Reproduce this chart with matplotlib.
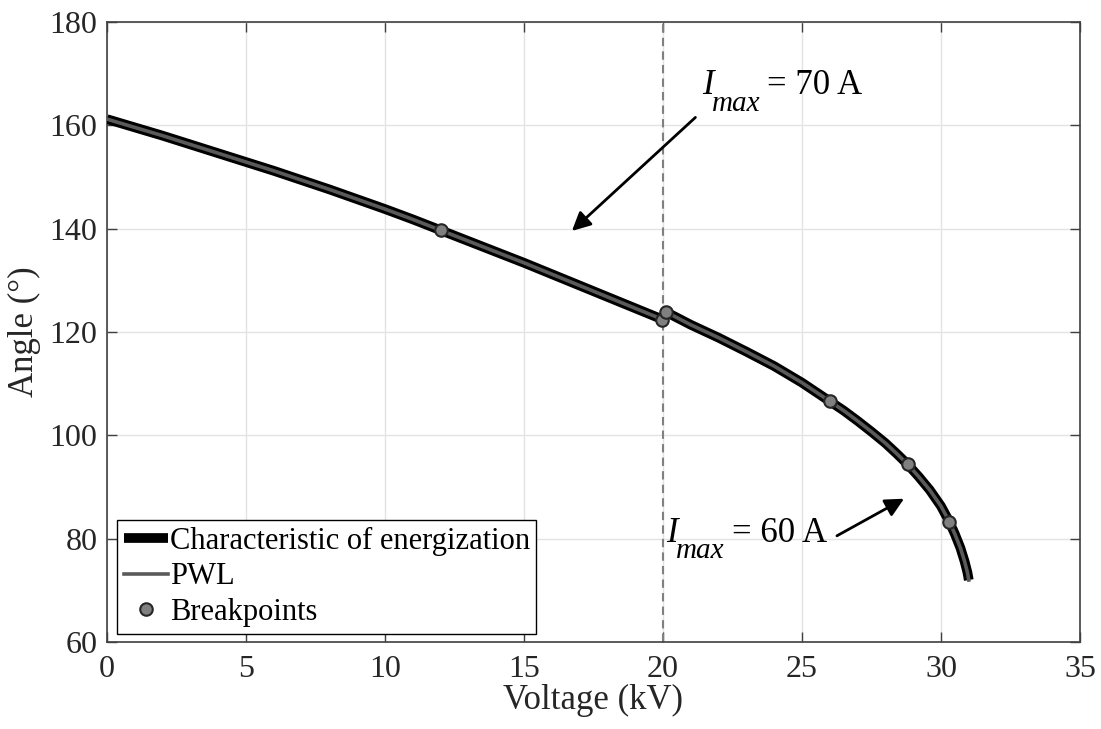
import numpy as np
import matplotlib
matplotlib.use('Agg')
import matplotlib.pyplot as plt

plt.rcParams['font.family'] = ['Liberation Serif', 'DejaVu Serif']

# Kennlinie Teil 1 (bis 20 kV) und Teil 2 (ab 20 kV)
v1 = [0, 1, 2, 3, 4, 5, 6, 7, 8, 9, 10, 11, 12, 13, 14, 15, 16, 17, 18, 19, 20]
a1 = [161.2, 159.6, 158.0, 156.3, 154.6, 152.9, 151.2, 149.4, 147.6, 145.7, 143.8,
      141.8, 139.7, 137.6, 135.5, 133.4, 131.2, 129.0, 126.8, 124.6, 122.4]
v2 = [20.1, 21, 22, 23, 24, 25, 26, 26.5, 27, 27.5, 28, 28.4, 28.8, 29.2, 29.6, 30,
      30.3, 30.5, 30.7, 30.85, 30.95, 31.0]
a2 = [123.9, 121.4, 118.9, 116.2, 113.4, 110.2, 106.6, 104.8, 102.8, 100.7, 98.5, 96.5,
      94.4, 92.0, 89.4, 86.3, 83.3, 80.9, 78.2, 75.6, 73.5, 72.0]

# Stützstellen
bx = [12, 19.95, 20.1, 26, 28.8, 30.3]
by = [139.7, 122.4, 123.9, 106.6, 94.4, 83.3]

fig = plt.figure(figsize=(11.01, 7.29), dpi=100)
ax = fig.add_axes([0.0972, 0.1193, 0.8837, 0.8505])

ax.plot(v1, a1, color='k', lw=7, solid_capstyle='butt', solid_joinstyle='round',
        label='Characteristic of energization', zorder=3)
ax.plot(v2, a2, color='k', lw=7, solid_capstyle='butt', solid_joinstyle='round', zorder=3)
ax.plot(v1, a1, color='#5a5a5a', lw=2.6, label='PWL', zorder=4)
ax.plot(v2, a2, color='#5a5a5a', lw=2.6, zorder=4)
ax.plot(bx, by, ls='none', marker='o', ms=9, mfc='#808080', mec='#262626', mew=1.5,
        label='Breakpoints', zorder=5)

ax.axvline(20, color='#808080', ls='--', lw=1.5, dashes=(4, 2.5), zorder=2)


def imax_label(x, y, rest):
    # I kursiv, "max" tiefgestellt, danach der Wert
    ax.text(x, y, 'I', fontsize=25, style='italic', va='baseline', ha='left')
    ax.annotate('max', xy=(x, y), xytext=(7, -12), textcoords='offset points',
                fontsize=21, style='italic', va='baseline', ha='left')
    ax.annotate(rest, xy=(x, y), xytext=(47, 0), textcoords='offset points',
                fontsize=25, va='baseline', ha='left')


# Pfeile und Beschriftungen
ax.annotate('', xy=(16.65, 139.2), xytext=(21.24, 161.9),
            arrowprops=dict(arrowstyle='-|>', color='k', lw=2, mutation_scale=28))
imax_label(21.4, 166.1, '= 70 A')
ax.annotate('', xy=(28.76, 88.0), xytext=(26.17, 80.3),
            arrowprops=dict(arrowstyle='-|>', color='k', lw=2, mutation_scale=28))
imax_label(20.13, 79.4, '= 60 A')

ax.set_xlim(0, 35)
ax.set_ylim(60, 180)
ax.set_xticks(np.arange(0, 36, 5))
ax.set_yticks(np.arange(60, 181, 20))
ax.grid(True, color='#e3e3e3', lw=1)
ax.set_axisbelow(True)
for s in ax.spines.values():
    s.set_color('#404040')
    s.set_linewidth(1.2)
ax.tick_params(direction='in', length=7, width=1, colors='#404040', labelcolor='#262626',
               labelsize=23, top=True, right=True)
ax.tick_params(axis='x', pad=9)
ax.tick_params(axis='y', pad=7)

ax.set_xlabel('Voltage (kV)', fontsize=25, color='#262626', labelpad=0)
ax.set_ylabel('Angle (°)', fontsize=25, color='#262626', labelpad=6)

leg = ax.legend(loc='upper left', bbox_to_anchor=(0.0103, 0.197), borderaxespad=0,
                fontsize=22, handlelength=1.45, handletextpad=0.05, labelspacing=0.22,
                borderpad=0.22, fancybox=False, framealpha=1, edgecolor='k')
leg.get_frame().set_linewidth(1)

fig.savefig('out.png', dpi=100)
